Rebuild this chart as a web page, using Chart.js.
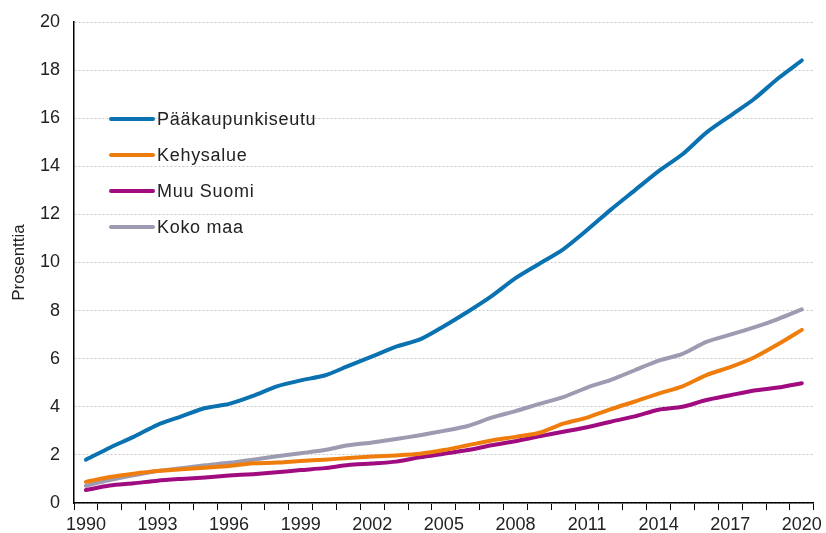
<!DOCTYPE html>
<html>
<head>
<meta charset="utf-8">
<script src="https://cdn.jsdelivr.net/npm/chart.js@4/dist/chart.umd.min.js"></script>
<style>
  html, body { margin: 0; padding: 0; background: #fff; }
  #wrap { width: 826px; height: 533px; }
</style>
</head>
<body>
<div id="wrap"><canvas id="myChart" width="826" height="533"></canvas></div>
<script>
// years on the x axis
const years = [];
for (let y = 1990; y <= 2020; y++) years.push(String(y));

const seriesNames = ['Pääkaupunkiseutu', 'Kehysalue', 'Muu Suomi', 'Koko maa'];
const seriesColors = ['#0a72b0', '#ef7d0c', '#a10b80', '#9c9bb1'];

const paakaupunkiseutu = [1.8, 2.3, 2.75, 3.25, 3.6, 3.95, 4.12, 4.45, 4.85, 5.1,
  5.3, 5.7, 6.1, 6.5, 6.8, 7.35, 7.95, 8.6, 9.35, 9.95,
  10.55, 11.35, 12.2, 13.0, 13.8, 14.5, 15.4, 16.1, 16.8, 17.65, 18.4];
const kehysalue = [0.88, 1.08, 1.22, 1.33, 1.4, 1.47, 1.54, 1.65, 1.68, 1.75,
  1.8, 1.87, 1.93, 1.98, 2.05, 2.2, 2.4, 2.6, 2.75, 2.92,
  3.3, 3.55, 3.9, 4.22, 4.55, 4.85, 5.32, 5.65, 6.05, 6.6, 7.2];
const muuSuomi = [0.54, 0.73, 0.82, 0.93, 1.0, 1.06, 1.14, 1.2, 1.28, 1.37,
  1.45, 1.58, 1.64, 1.72, 1.9, 2.05, 2.2, 2.4, 2.57, 2.77,
  2.96, 3.15, 3.38, 3.6, 3.88, 4.0, 4.28, 4.48, 4.68, 4.8, 4.98];
const kokoMaa = [0.72, 0.95, 1.15, 1.33, 1.45, 1.57, 1.67, 1.8, 1.94, 2.07,
  2.2, 2.4, 2.52, 2.66, 2.82, 3.0, 3.2, 3.55, 3.82, 4.12,
  4.4, 4.8, 5.12, 5.52, 5.92, 6.2, 6.7, 7.0, 7.3, 7.65, 8.05];

const allSeries = [paakaupunkiseutu, kehysalue, muuSuomi, kokoMaa];
const FONT = '"Liberation Sans", Arial, sans-serif';

// legend drawn inside the plot, top-left
const insideLegend = {
    id: 'insideLegend',
    afterDraw(chart) {
        const c = chart.ctx;
        c.save();
        chart.data.datasets.forEach((ds, i) => {
            const y = 119 + i * 36;
            c.strokeStyle = ds.borderColor;
            c.lineWidth = 4;
            c.lineCap = 'round';
            c.beginPath();
            c.moveTo(111, y);
            c.lineTo(153, y);
            c.stroke();
            c.fillStyle = '#222';
            c.font = '18px ' + FONT;
            c.letterSpacing = '0.7px';
            c.textBaseline = 'middle';
            c.fillText(ds.label, 157, y + 1);
        });
        c.restore();
    }
};

const ctx = document.getElementById('myChart').getContext('2d');
const myChart = new Chart(ctx, {
    type: 'line',
    data: {
        labels: years,
        datasets: seriesNames.map((name, i) => ({
            label: name,
            data: allSeries[i],
            borderColor: seriesColors[i],
            backgroundColor: seriesColors[i],
            borderWidth: 4,
            pointRadius: 0,
            tension: 0.25,
            borderCapStyle: 'round',
            borderJoinStyle: 'round',
            fill: false
        }))
    },
    options: {
        responsive: false,
        animation: false,
        layout: { padding: { top: 22, right: 11, left: 9, bottom: 0 } },
        plugins: {
            legend: { display: false },
            tooltip: { enabled: false }
        },
        scales: {
            x: {
                offset: true,
                afterFit: (s) => { s.height = 30; },
                grid: {
                    offset: true,
                    drawOnChartArea: false,
                    drawTicks: true,
                    tickLength: 7,
                    color: '#000'
                },
                border: { color: '#000', width: 1.5 },
                ticks: {
                    autoSkip: false,
                    maxRotation: 0,
                    padding: 4,
                    color: '#222',
                    font: { family: FONT, size: 18 },
                    callback: function (v, i) {
                        return (i % 3 === 0) ? this.getLabelForValue(v) : '';
                    }
                }
            },
            y: {
                min: 0,
                max: 20,
                afterFit: (s) => { s.width = 65; s.paddingTop = 0; s.paddingBottom = 0; },
                ticks: {
                    stepSize: 2,
                    padding: 14,
                    color: '#222',
                    font: { family: FONT, size: 18, lineHeight: 0.8 }
                },
                grid: {
                    drawTicks: false,
                    color: '#c9c9c9',
                    lineWidth: 1
                },
                border: { color: '#000', width: 1.5, dash: [2, 2] },
                title: {
                    display: true,
                    text: 'Prosenttia',
                    color: '#222',
                    font: { family: FONT, size: 17 },
                    padding: { top: 0, bottom: 0 }
                }
            }
        }
    },
    plugins: [insideLegend]
});
</script>
</body>
</html>
